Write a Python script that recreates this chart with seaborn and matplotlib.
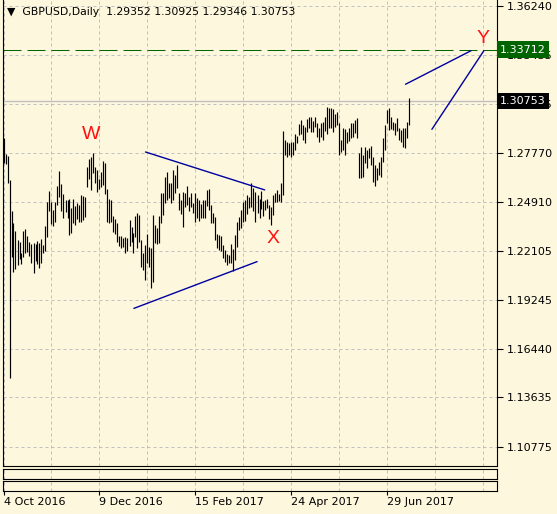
import numpy as np
import pandas as pd
import seaborn as sns
import matplotlib
matplotlib.use('Agg')
import matplotlib.pyplot as plt
import matplotlib.transforms as mtrans

# daily bars GBPUSD (high / low per bar)
highs = [1.2862, 1.2770, 1.2758, 1.2619, 1.2440, 1.2371, 1.2325, 1.2273, 1.2261, 1.2198,
         1.2325, 1.2336, 1.2296, 1.2261, 1.2250, 1.2256, 1.2250, 1.2267, 1.2256, 1.2279,
         1.2244, 1.2354, 1.2492, 1.2556, 1.2492, 1.2446, 1.2492, 1.2585, 1.2671, 1.2596,
         1.2539, 1.2504, 1.2504, 1.2510, 1.2458, 1.2510, 1.2469, 1.2487, 1.2475, 1.2533,
         1.2527, 1.2521, 1.2694, 1.2741, 1.2752, 1.2775, 1.2694, 1.2677, 1.2625, 1.2666,
         1.2729, 1.2718, 1.2567, 1.2510, 1.2504, 1.2412, 1.2394, 1.2371, 1.2296, 1.2296,
         1.2284, 1.2290, 1.2284, 1.2388, 1.2348, 1.2313, 1.2412, 1.2429, 1.2417, 1.2273,
         1.2198, 1.2244, 1.2307, 1.2232, 1.2227, 1.2417, 1.2359, 1.2342, 1.2412, 1.2544,
         1.2544, 1.2637, 1.2666, 1.2602, 1.2602, 1.2677, 1.2648, 1.2706, 1.2544, 1.2504,
         1.2550, 1.2544, 1.2585, 1.2521, 1.2544, 1.2487, 1.2544, 1.2515, 1.2504, 1.2481,
         1.2504, 1.2504, 1.2562, 1.2567, 1.2475, 1.2429, 1.2406, 1.2307, 1.2302, 1.2296,
         1.2244, 1.2215, 1.2192, 1.2186, 1.2250, 1.2221, 1.2302, 1.2377, 1.2406, 1.2446,
         1.2492, 1.2504, 1.2533, 1.2521, 1.2602, 1.2573, 1.2550, 1.2533, 1.2510, 1.2556,
         1.2498, 1.2504, 1.2510, 1.2475, 1.2464, 1.2533, 1.2544, 1.2562, 1.2539, 1.2602,
         1.2902, 1.2850, 1.2839, 1.2833, 1.2839, 1.2839, 1.2885, 1.2873, 1.2943, 1.2966,
         1.2937, 1.2925, 1.2972, 1.2983, 1.2983, 1.2960, 1.2983, 1.2949, 1.2920, 1.2949,
         1.2954, 1.2983, 1.3041, 1.3035, 1.3035, 1.3029, 1.3000, 1.3012, 1.2949, 1.2850,
         1.2920, 1.2914, 1.2897, 1.2920, 1.2949, 1.2949, 1.2966, 1.2977, 1.2775, 1.2810,
         1.2764, 1.2810, 1.2793, 1.2804, 1.2816, 1.2752, 1.2706, 1.2689, 1.2723, 1.2752,
         1.2862, 1.2937, 1.3024, 1.3035, 1.2983, 1.2954, 1.2949, 1.2977, 1.2920, 1.2908,
         1.2920, 1.2920, 1.2954, 1.30925]
lows = [1.2718, 1.2712, 1.2602, 1.1476, 1.2175, 1.2088, 1.2105, 1.2129, 1.2163, 1.2134,
        1.2175, 1.2198, 1.2204, 1.2181, 1.2140, 1.2082, 1.2152, 1.2134, 1.2111, 1.2140,
        1.2198, 1.2209, 1.2290, 1.2440, 1.2365, 1.2354, 1.2377, 1.2475, 1.2521, 1.2440,
        1.2400, 1.2435, 1.2400, 1.2302, 1.2313, 1.2371, 1.2359, 1.2394, 1.2377, 1.2377,
        1.2388, 1.2406, 1.2579, 1.2625, 1.2562, 1.2660, 1.2602, 1.2550, 1.2567, 1.2579,
        1.2590, 1.2539, 1.2377, 1.2371, 1.2377, 1.2319, 1.2307, 1.2261, 1.2238, 1.2227,
        1.2232, 1.2198, 1.2209, 1.2238, 1.2261, 1.2198, 1.2290, 1.2227, 1.2261, 1.2117,
        1.2100, 1.2042, 1.2140, 1.2117, 1.1996, 1.2030, 1.2256, 1.2250, 1.2256, 1.2371,
        1.2417, 1.2487, 1.2504, 1.2515, 1.2487, 1.2504, 1.2544, 1.2573, 1.2446, 1.2423,
        1.2348, 1.2464, 1.2475, 1.2440, 1.2464, 1.2429, 1.2377, 1.2400, 1.2383, 1.2400,
        1.2400, 1.2400, 1.2469, 1.2446, 1.2371, 1.2371, 1.2273, 1.2227, 1.2215, 1.2209,
        1.2169, 1.2146, 1.2129, 1.2140, 1.2140, 1.2094, 1.2157, 1.2232, 1.2331, 1.2342,
        1.2377, 1.2383, 1.2423, 1.2458, 1.2464, 1.2440, 1.2377, 1.2429, 1.2400, 1.2452,
        1.2412, 1.2446, 1.2458, 1.2394, 1.2359, 1.2417, 1.2492, 1.2492, 1.2498, 1.2492,
        1.2533, 1.2764, 1.2752, 1.2764, 1.2752, 1.2764, 1.2793, 1.2833, 1.2879, 1.2885,
        1.2850, 1.2833, 1.2897, 1.2920, 1.2897, 1.2897, 1.2925, 1.2868, 1.2839, 1.2868,
        1.2850, 1.2902, 1.2885, 1.2920, 1.2920, 1.2897, 1.2925, 1.2937, 1.2764, 1.2781,
        1.2793, 1.2764, 1.2833, 1.2845, 1.2862, 1.2868, 1.2891, 1.2862, 1.2631, 1.2631,
        1.2637, 1.2718, 1.2689, 1.2746, 1.2706, 1.2608, 1.2585, 1.2619, 1.2648, 1.2637,
        1.2723, 1.2793, 1.2949, 1.2908, 1.2914, 1.2908, 1.2879, 1.2902, 1.2850, 1.2839,
        1.2810, 1.2804, 1.2862, 1.29346]

last_ohlc = [1.29352, 1.30925, 1.29346, 1.30753]
target_level = 1.33712

date_labels = ['4 Oct 2016', '9 Dec 2016', '15 Feb 2017', '24 Apr 2017', '29 Jun 2017']
price_ticks = [1.36240, 1.33435, 1.30575, 1.27770, 1.24910, 1.22105,
               1.19245, 1.16440, 1.13635, 1.10775]

# trendline objects (bar index, price)
tri_upper_bars = [71, 130.6]
tri_upper_prices = [1.2781, 1.2562]
tri_lower_bars = [65.2, 126.8]
tri_lower_prices = [1.1878, 1.2148]
y_upper_bars = [201, 233.8]
y_upper_prices = [1.3172, 1.3366]
y_lower_bars = [214.2, 240.2]
y_lower_prices = [1.2912, 1.3366]

wave_names = ['W', 'X', 'Y']
wave_bars = [44, 135, 239.8]
wave_prices = [1.2882, 1.2282, 1.3434]

bg = '#fdf7dd'
grid_c = '#c0c0c0'

sns.set_theme(style='white', rc={'axes.facecolor': bg, 'figure.facecolor': bg,
                                 'axes.edgecolor': 'black', 'axes.linewidth': 0.8})
plt.rcParams['font.family'] = ['DejaVu Sans']

W, H = 557, 514
fig = plt.figure(figsize=(W / 100, H / 100), dpi=100)


def px_box(x0, y0, x1, y1):
    return [x0 / W, 1 - y1 / H, (x1 - x0) / W, (y1 - y0) / H]


ax = fig.add_axes(px_box(2.5, 0, 497, 466))
ax_i1 = fig.add_axes(px_box(2.5, 468.5, 497, 478.5))
ax_i2 = fig.add_axes(px_box(2.5, 480.5, 497, 490.5))

n = len(highs)
xlim = (-0.5, 246.75)
grid_bars = np.arange(0, xlim[1], 24)
label_bars = np.arange(0, n, 48)[:len(date_labels)]

for a in (ax, ax_i1, ax_i2):
    a.set_xlim(*xlim)
    for gx in grid_bars:
        a.axvline(gx, color=grid_c, lw=0.72, ls=(0, (3, 3)), zorder=0)
    a.spines['top'].set_visible(a is not ax)
    a.set_yticks([])

# horizontal grid
for p in price_ticks:
    ax.axhline(p, color=grid_c, lw=0.72, ls=(0, (3, 3)), zorder=0)

# bars
df = pd.DataFrame({'bar': np.arange(n), 'high': highs, 'low': lows})
ax.vlines(df['bar'], df['low'], df['high'], color='black', lw=0.85, zorder=3)

# bid line and target level
ax.axhline(last_ohlc[3], color='#c0c0c0', lw=1.0, zorder=1)
ax.axhline(target_level, color='#006400', lw=0.72, ls=(0, (18, 6)), zorder=1)

# trendlines
tl = pd.DataFrame({
    'bar': tri_upper_bars + tri_lower_bars + y_upper_bars + y_lower_bars,
    'price': tri_upper_prices + tri_lower_prices + y_upper_prices + y_lower_prices,
    'line': ['a', 'a', 'b', 'b', 'c', 'c', 'd', 'd'],
})
sns.lineplot(data=tl, x='bar', y='price', units='line', estimator=None,
             color='#0000a0', lw=1.0, ax=ax, zorder=4)

for name, b, p in zip(wave_names, wave_bars, wave_prices):
    ax.text(b, p, name, color='#ff1010', fontsize=14, family='Liberation Sans',
            ha='center', va='center', zorder=5)

ax.set_ylim(1.09679, 1.36586)
ax.set_xlabel('')
ax.set_ylabel('')
ax.set_xticks([])
ax.yaxis.tick_right()
ax.set_yticks(price_ticks)
ax.set_yticklabels(['%.5f' % p for p in price_ticks])
ax.tick_params(axis='y', right=True, left=False, length=4, width=0.8, pad=3,
               labelsize=8, colors='black')

title = '\u25bc  GBPUSD,Daily  ' + ' '.join('%.5f' % v for v in last_ohlc)
ax.text(4.5 / 494.5, 1 - 12 / 466, title, transform=ax.transAxes, fontsize=7.8,
        ha='left', va='center', color='black')

# price labels on the right scale
trans = mtrans.blended_transform_factory(ax.transAxes, ax.transData)
for price, fc in [(target_level, '#006400'), (last_ohlc[3], 'black')]:
    ax.text(1.006, price, '%.5f' % price, transform=trans, fontsize=8, color='white',
            ha='left', va='center', clip_on=False, zorder=10,
            bbox=dict(boxstyle='square,pad=0.3', fc=fc, ec='none'))

ax_i1.set_xticks([])
ax_i2.set_xticks(label_bars)
ax_i2.set_xticklabels(date_labels)
ax_i2.tick_params(axis='x', bottom=True, length=3, width=0.8, pad=2, labelsize=8,
                  colors='black')
for lab in ax_i2.get_xticklabels():
    lab.set_horizontalalignment('left')

fig.savefig('out.png', dpi=100, facecolor=bg)
